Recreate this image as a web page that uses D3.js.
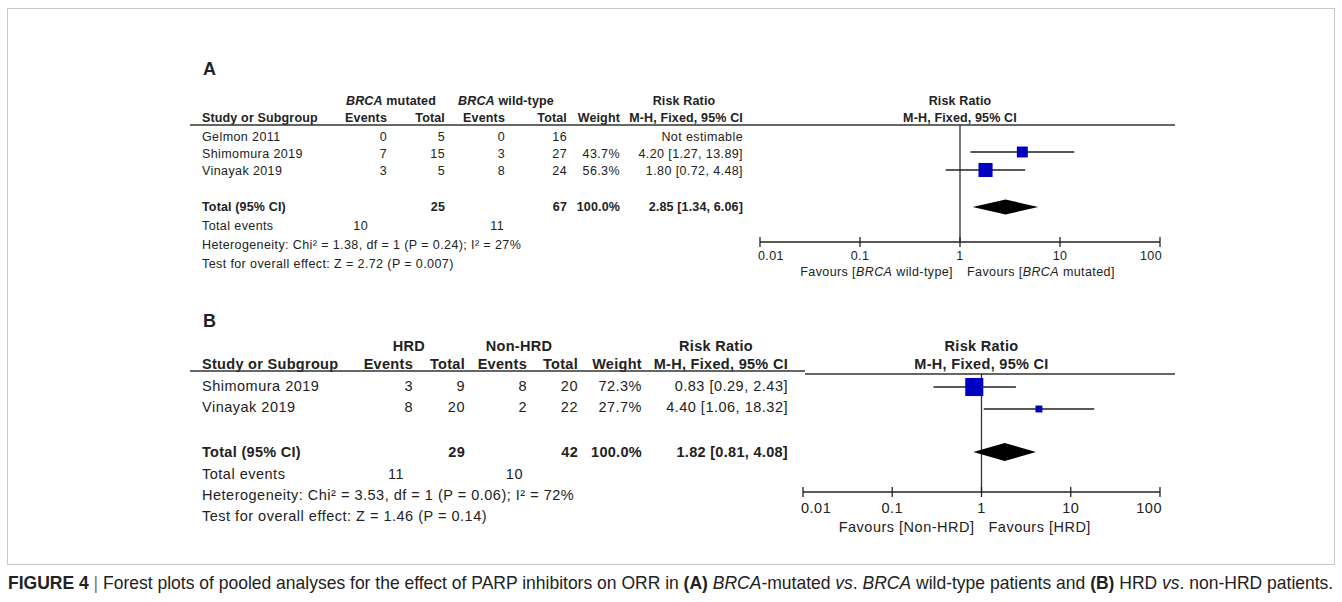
<!DOCTYPE html>
<html>
<head>
<meta charset="utf-8">
<script src="https://cdn.jsdelivr.net/npm/d3@7"></script>
<style>
  body { margin: 0; background: #fff; }
  svg text { font-family: "Liberation Sans", Arial, sans-serif; fill: #222; }
</style>
</head>
<body>
<svg id="chart" width="1342" height="602"></svg>
<script>

// panel A data
var studiesA = ["Gelmon 2011", "Shimomura 2019", "Vinayak 2019"];
var eventsMutA = [0, 7, 3];
var totalMutA = [5, 15, 5];
var eventsWtA = [0, 3, 8];
var totalWtA = [16, 27, 24];
var weightA = [null, 43.7, 56.3];
var rrA = [null, 4.20, 1.80];
var lowA = [null, 1.27, 0.72];
var highA = [null, 13.89, 4.48];
var pooledA = [2.85, 1.34, 6.06];
var sumTotalsA = [25, 67];
var sumEventsA = [10, 11];

// panel B data
var studiesB = ["Shimomura 2019", "Vinayak 2019"];
var eventsHrdB = [3, 8];
var totalHrdB = [9, 20];
var eventsNonB = [8, 2];
var totalNonB = [20, 22];
var weightB = [72.3, 27.7];
var rrB = [0.83, 4.40];
var lowB = [0.29, 1.06];
var highB = [2.43, 18.32];
var pooledB = [1.82, 0.81, 4.08];
var sumTotalsB = [29, 42];
var sumEventsB = [11, 10];

var tickValues = [0.01, 0.1, 1, 10, 100];
var tickLabels = ["0.01", "0.1", "1", "10", "100"];

var svg = d3.select("#chart");
var f2 = d3.format(".2f");
var f1 = d3.format(".1f");

function rrText(rr, lo, hi) {
    if (rr === null) return "Not estimable";
    return f2(rr) + " [" + f2(lo) + ", " + f2(hi) + "]";
}

function drawPanel(p) {
    var g = svg.append("g").style("font-size", p.fs + "px").style("letter-spacing", p.ls + "px");

    function bold(sel) {
        return sel.style("font-weight", "bold").style("letter-spacing", p.lsb + "px");
    }

    g.append("text").attr("x", 203).attr("y", p.labelY).attr("dy", "0.35em")
        .style("font-size", "18px").style("font-weight", "bold").style("letter-spacing", "0px")
        .text(p.label);

    // group headers
    p.groups.forEach(function(gr, i) {
        var t = bold(g.append("text").attr("x", p.groupX[i]).attr("y", p.head1Y).attr("dy", "0.35em")
            .attr("text-anchor", "middle"));
        if (gr.italic) {
            t.append("tspan").style("font-style", "italic").text(gr.italic);
        }
        t.append("tspan").text(gr.text);
    });
    bold(g.append("text").attr("x", p.rrHeadX).attr("y", p.head1Y).attr("dy", "0.35em")
        .attr("text-anchor", "middle")).text("Risk Ratio");

    bold(g.append("text").attr("x", 202).attr("y", p.head2Y).attr("dy", "0.35em"))
        .text("Study or Subgroup");
    var heads = ["Events", "Total", "Events", "Total", "Weight", "M-H, Fixed, 95% CI"];
    heads.forEach(function(h, i) {
        bold(g.append("text").attr("x", p.cols[i]).attr("y", p.head2Y).attr("dy", "0.35em")
            .attr("text-anchor", "end")).text(h);
    });

    // plot header
    bold(g.append("text").attr("x", p.x(1)).attr("y", p.head1Y).attr("dy", "0.35em")
        .attr("text-anchor", "middle")).text("Risk Ratio");
    bold(g.append("text").attr("x", p.x(1)).attr("y", p.head2Y).attr("dy", "0.35em")
        .attr("text-anchor", "middle")).text("M-H, Fixed, 95% CI");

    g.append("line").attr("x1", 190).attr("x2", p.lineSplit).attr("y1", p.lineY).attr("y2", p.lineY)
        .attr("stroke", "#333").attr("stroke-width", 1.3);
    g.append("line").attr("x1", p.lineSplit).attr("x2", 1175).attr("y1", p.plotLineY).attr("y2", p.plotLineY)
        .attr("stroke", "#333").attr("stroke-width", 1.3);

    // study rows
    p.studies.forEach(function(s, i) {
        var y = p.rowY[i];
        var vals = [p.ev1[i], p.tot1[i], p.ev2[i], p.tot2[i],
                    p.weight[i] === null ? "" : f1(p.weight[i]) + "%",
                    rrText(p.rr[i], p.low[i], p.high[i])];
        g.append("text").attr("x", 202).attr("y", y).attr("dy", "0.35em").text(s);
        vals.forEach(function(v, j) {
            g.append("text").attr("x", p.cols[j]).attr("y", y).attr("dy", "0.35em")
                .attr("text-anchor", "end").text(v);
        });
    });

    // totals
    bold(g.append("text").attr("x", 202).attr("y", p.totalY).attr("dy", "0.35em"))
        .text("Total (95% CI)");
    var totVals = [[1, p.sumTotals[0]], [3, p.sumTotals[1]], [4, "100.0%"],
                   [5, rrText(p.pooled[0], p.pooled[1], p.pooled[2])]];
    totVals.forEach(function(tv) {
        bold(g.append("text").attr("x", p.cols[tv[0]]).attr("y", p.totalY).attr("dy", "0.35em")
            .attr("text-anchor", "end")).text(tv[1]);
    });
    g.append("text").attr("x", 202).attr("y", p.eventsY).attr("dy", "0.35em").text("Total events");
    p.sumEvents.forEach(function(e, i) {
        g.append("text").attr("x", p.sumEventsX[i]).attr("y", p.eventsY).attr("dy", "0.35em")
            .attr("text-anchor", "end").text(e);
    });
    g.append("text").attr("x", 202).attr("y", p.hetY).attr("dy", "0.35em").text(p.het);
    g.append("text").attr("x", 202).attr("y", p.testY).attr("dy", "0.35em").text(p.test);

    // forest plot
    g.append("line").attr("x1", p.x(1)).attr("x2", p.x(1))
        .attr("y1", p.plotLineY).attr("y2", p.axisY)
        .attr("stroke", "#333").attr("stroke-width", 1.3);

    var size = d3.scaleLinear().domain([0, 100]).range([0, 25]);
    p.studies.forEach(function(s, i) {
        if (p.rr[i] === null) return;
        var y = p.markY[i];
        g.append("line").attr("x1", p.x(p.low[i])).attr("x2", p.x(p.high[i]))
            .attr("y1", y).attr("y2", y).attr("stroke", "#222").attr("stroke-width", 1.3);
        var w = size(p.weight[i]);
        g.append("rect").attr("x", p.x(p.rr[i]) - w / 2).attr("y", y - w / 2)
            .attr("width", w).attr("height", w).attr("fill", "#0000c0");
    });

    var dy = p.diamondH;
    var pts = [[p.x(p.pooled[1]), p.totalY], [p.x(p.pooled[0]), p.totalY - dy],
               [p.x(p.pooled[2]), p.totalY], [p.x(p.pooled[0]), p.totalY + dy]];
    g.append("polygon").attr("points", pts.map(function(d) { return d.join(","); }).join(" "))
        .attr("fill", "#000");

    var axis = g.append("g").attr("transform", "translate(0," + p.axisY + ")");
    axis.append("line").attr("x1", p.x(0.01)).attr("x2", p.x(100))
        .attr("stroke", "#222").attr("stroke-width", 1.3);
    tickValues.forEach(function(t, i) {
        axis.append("line").attr("x1", p.x(t)).attr("x2", p.x(t)).attr("y1", -5).attr("y2", 5)
            .attr("stroke", "#222").attr("stroke-width", 1.3);
        var anchor = i === 0 ? "start" : (i === tickValues.length - 1 ? "end" : "middle");
        axis.append("text").attr("x", p.x(t) + (i === 0 ? -2 : (i === tickValues.length - 1 ? 2 : 0)))
            .attr("y", p.tickLabelDy).attr("dy", "0.35em")
            .attr("text-anchor", anchor).text(tickLabels[i]);
    });

    var fl = g.append("text").attr("x", p.x(1) - 7).attr("y", p.favY).attr("dy", "0.35em")
        .attr("text-anchor", "end");
    p.favLeft.forEach(function(part) {
        fl.append("tspan").style("font-style", part.i ? "italic" : "normal").text(part.t);
    });
    var fr = g.append("text").attr("x", p.x(1) + 7).attr("y", p.favY).attr("dy", "0.35em");
    p.favRight.forEach(function(part) {
        fr.append("tspan").style("font-style", part.i ? "italic" : "normal").text(part.t);
    });
}

// outer frame
svg.append("rect").attr("x", 7.5).attr("y", 8.5).attr("width", 1327).attr("height", 556)
    .attr("fill", "none").attr("stroke", "#c8c8c8").attr("stroke-width", 1);

drawPanel({
    label: "A", labelY: 69, fs: 12.5, ls: 0.4, lsb: 0.15,
    groups: [{italic: "BRCA", text: " mutated"}, {italic: "BRCA", text: " wild-type"}],
    groupX: [391, 506], rrHeadX: 684,
    head1Y: 101, head2Y: 118, lineY: 125, plotLineY: 125, lineSplit: 800,
    cols: [387, 445, 505, 567, 620, 743],
    studies: studiesA, ev1: eventsMutA, tot1: totalMutA, ev2: eventsWtA, tot2: totalWtA,
    weight: weightA, rr: rrA, low: lowA, high: highA,
    rowY: [137, 154, 171], markY: [137, 152, 170],
    totalY: 207, eventsY: 226, hetY: 245, testY: 264,
    pooled: pooledA, sumTotals: sumTotalsA, sumEvents: sumEventsA, sumEventsX: [368, 504],
    het: "Heterogeneity: Chi\u00b2 = 1.38, df = 1 (P = 0.24); I\u00b2 = 27%",
    test: "Test for overall effect: Z = 2.72 (P = 0.007)",
    x: d3.scaleLog().domain([0.01, 100]).range([760, 1160]),
    diamondH: 7.5, axisY: 242, tickLabelDy: 14, favY: 272,
    favLeft: [{t: "Favours ["}, {t: "BRCA", i: true}, {t: " wild-type]"}],
    favRight: [{t: "Favours ["}, {t: "BRCA", i: true}, {t: " mutated]"}]
});

drawPanel({
    label: "B", labelY: 321, fs: 14.5, ls: 0.5, lsb: 0.3,
    groups: [{text: "HRD"}, {text: "Non-HRD"}],
    groupX: [409, 519], rrHeadX: 716,
    head1Y: 346, head2Y: 364, lineY: 371, plotLineY: 374, lineSplit: 805,
    cols: [413, 465, 527, 578, 642, 788],
    studies: studiesB, ev1: eventsHrdB, tot1: totalHrdB, ev2: eventsNonB, tot2: totalNonB,
    weight: weightB, rr: rrB, low: lowB, high: highB,
    rowY: [386, 407], markY: [387, 409],
    totalY: 452, eventsY: 474, hetY: 495, testY: 516,
    pooled: pooledB, sumTotals: sumTotalsB, sumEvents: sumEventsB, sumEventsX: [404, 523],
    het: "Heterogeneity: Chi\u00b2 = 3.53, df = 1 (P = 0.06); I\u00b2 = 72%",
    test: "Test for overall effect: Z = 1.46 (P = 0.14)",
    x: d3.scaleLog().domain([0.01, 100]).range([803, 1160]),
    diamondH: 9, axisY: 492, tickLabelDy: 16, favY: 527,
    favLeft: [{t: "Favours [Non-HRD]"}],
    favRight: [{t: "Favours [HRD]"}]
});

// caption, squeezed horizontally to look like the condensed journal font
var cap = svg.append("text").attr("x", 0).attr("y", 0)
    .style("font-family", "'Liberation Sans', Arial, sans-serif")
    .style("font-size", "18.5px");
var parts = [
    {t: "FIGURE 4", b: true}, {t: " | ", c: "#777"},
    {t: "Forest plots of pooled analyses for the effect of PARP inhibitors on ORR in "},
    {t: "(A)", b: true}, {t: " "}, {t: "BRCA", i: true}, {t: "-mutated "}, {t: "vs", i: true},
    {t: ". "}, {t: "BRCA", i: true}, {t: " wild-type patients and "}, {t: "(B)", b: true},
    {t: " HRD "}, {t: "vs", i: true}, {t: ". non-HRD patients."}
];
parts.forEach(function(pt) {
    cap.append("tspan").style("font-weight", pt.b ? "bold" : "normal")
        .style("font-style", pt.i ? "italic" : "normal")
        .style("fill", pt.c || "#222").text(pt.t);
});
var capW = cap.node().getComputedTextLength();
cap.attr("transform", "translate(8,589) scale(" + (1326 / capW) + ",1)");

</script>
</body>
</html>
